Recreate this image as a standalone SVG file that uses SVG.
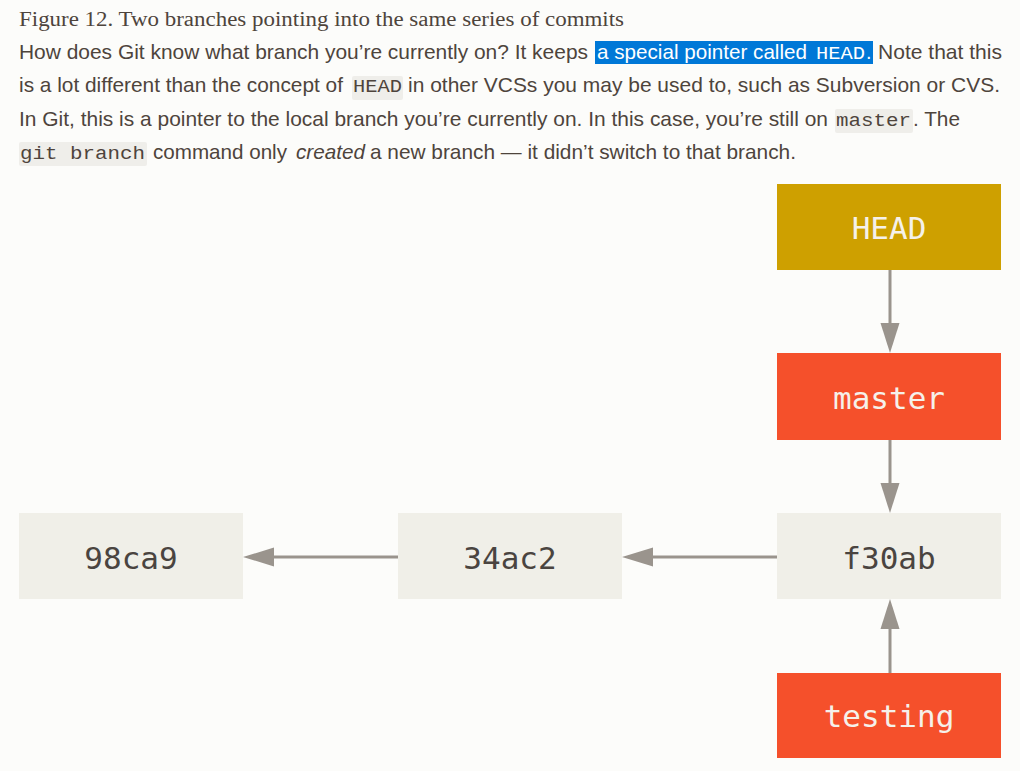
<svg xmlns="http://www.w3.org/2000/svg" width="1020" height="771" viewBox="0 0 1020 771">
<style>
.cap{font-family:"Liberation Serif","DejaVu Serif",serif;font-size:20.5px;fill:#4e443c}
.p{font-family:"Liberation Sans",Arial,sans-serif;font-size:19.8px;fill:#4e443c}
.code{font-family:"Liberation Mono","Courier New",monospace;font-size:19px;fill:#4e443c}
.cbg{fill:#efeeea}
.sel{fill:#0078d7}
.w{fill:#ffffff}
.lbl{font-family:"DejaVu Sans Mono",monospace;font-size:31px;text-anchor:middle}
.commit rect{fill:#f0efe8}
.commit text{fill:#4a4440}
.branch rect{fill:#f5502b}
.head rect{fill:#cea000}
.branch text,.head text{fill:#f5f1ea}
.conn line{stroke:#9a948d;stroke-width:3}
.conn polygon{fill:#9a948d}
</style>
<rect width="1020" height="771" fill="#fcfcfa"/>
<g id="text">
<text class="cap" x="19" y="26" textLength="605" lengthAdjust="spacingAndGlyphs">Figure 12. Two branches pointing into the same series of commits</text>
<rect class="sel" x="595" y="41" width="278" height="23"/>
<rect class="cbg" x="352" y="76" width="51" height="24" rx="2"/>
<rect class="cbg" x="835" y="109" width="78" height="24" rx="2"/>
<rect class="cbg" x="19" y="142" width="128" height="24" rx="2"/>
<text class="p" x="19" y="59" textLength="569" lengthAdjust="spacingAndGlyphs">How does Git know what branch you’re currently on? It keeps</text>
<text class="p w" x="597" y="59" textLength="210" lengthAdjust="spacingAndGlyphs">a special pointer called</text>
<text class="code w" x="816" y="59" textLength="49" lengthAdjust="spacingAndGlyphs">HEAD</text>
<text class="p w" x="866" y="59">.</text>
<text class="p" x="878" y="59" textLength="124" lengthAdjust="spacingAndGlyphs">Note that this</text>
<text class="p" x="19" y="92" textLength="324" lengthAdjust="spacingAndGlyphs">is a lot different than the concept of</text>
<text class="code" x="353" y="92" textLength="49" lengthAdjust="spacingAndGlyphs">HEAD</text>
<text class="p" x="408" y="92" textLength="592" lengthAdjust="spacingAndGlyphs">in other VCSs you may be used to, such as Subversion or CVS.</text>
<text class="p" x="19" y="126" textLength="809" lengthAdjust="spacingAndGlyphs">In Git, this is a pointer to the local branch you’re currently on. In this case, you’re still on</text>
<text class="code" x="836" y="126" textLength="75" lengthAdjust="spacingAndGlyphs">master</text>
<text class="p" x="913" y="126" textLength="47" lengthAdjust="spacingAndGlyphs">. The</text>
<text class="code" x="20" y="159" textLength="125" lengthAdjust="spacingAndGlyphs">git branch</text>
<text class="p" x="153" y="159" textLength="134" lengthAdjust="spacingAndGlyphs">command only</text>
<text class="p" x="296" y="159" font-style="italic" textLength="69" lengthAdjust="spacingAndGlyphs">created</text>
<text class="p" x="370" y="159" textLength="426" lengthAdjust="spacingAndGlyphs">a new branch — it didn’t switch to that branch.</text>
</g>
<g id="head" class="head">
<rect x="777" y="184" width="224" height="86"/>
<text class="lbl" x="889" y="239">HEAD</text>
</g>
<g id="master" class="branch">
<rect x="777" y="353" width="224" height="87"/>
<text class="lbl" x="889" y="409">master</text>
</g>
<g id="c98ca9" class="commit">
<rect x="19" y="513" width="224" height="86"/>
<text class="lbl" x="131" y="569">98ca9</text>
</g>
<g id="c34ac2" class="commit">
<rect x="398" y="513" width="224" height="86"/>
<text class="lbl" x="510" y="569">34ac2</text>
</g>
<g id="cf30ab" class="commit">
<rect x="777" y="513" width="224" height="86"/>
<text class="lbl" x="889" y="569">f30ab</text>
</g>
<g id="testing" class="branch">
<rect x="777" y="673" width="224" height="85"/>
<text class="lbl" x="889" y="727">testing</text>
</g>
<g id="connectors" class="conn">
<line x1="890" y1="270" x2="890" y2="324"/>
<polygon points="880.5,323 899.5,323 890,353"/>
<line x1="890" y1="440" x2="890" y2="484"/>
<polygon points="880.5,483 899.5,483 890,513"/>
<line x1="777" y1="557" x2="652" y2="557"/>
<polygon points="653,547.5 653,566.5 622,557"/>
<line x1="398" y1="557" x2="273" y2="557"/>
<polygon points="274,547.5 274,566.5 243,557"/>
<line x1="890" y1="673" x2="890" y2="628"/>
<polygon points="880.5,629 899.5,629 890,599"/>
</g>
</svg>
